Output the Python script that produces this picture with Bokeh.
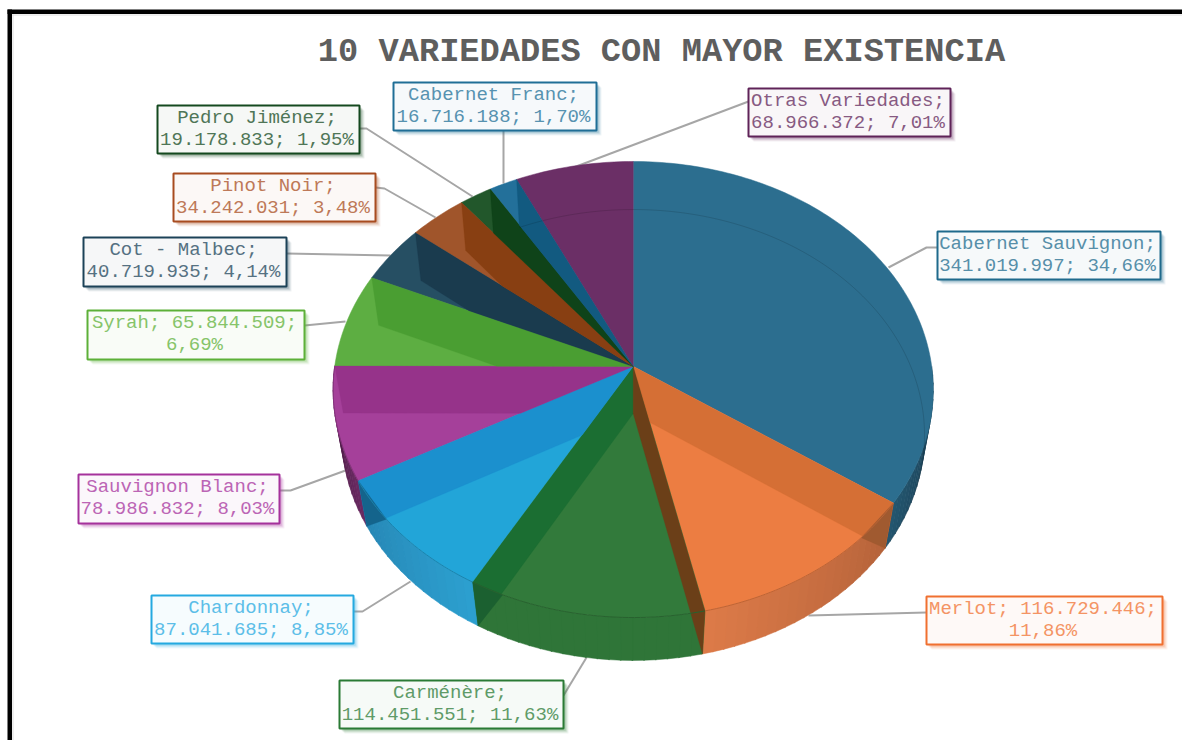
import math
from bokeh.core.properties import value
from bokeh.embed import file_html
from bokeh.models import Range1d
from bokeh.plotting import figure
from bokeh.resources import INLINE

TITLE = "10 VARIEDADES CON MAYOR EXISTENCIA"
names = ["Cabernet Sauvignon", "Merlot", "Carménère", "Chardonnay", "Sauvignon Blanc", "Syrah",
         "Cot - Malbec", "Pinot Noir", "Pedro Jiménez", "Cabernet Franc", "Otras Variedades"]
volumes = [341019997, 116729446, 114451551, 87041685, 78986832, 65844509,
           40719935, 34242031, 19178833, 16716188, 68966372]
percent_labels = ["34,66%", "11,86%", "11,63%", "8,85%", "8,03%", "6,69%",
                  "4,14%", "3,48%", "1,95%", "1,70%", "7,01%"]

# styles
border_colors = ["#1F6A8C", "#F07030", "#2A7A35", "#25A9E0", "#A5329C", "#5DB038",
                 "#1C4258", "#A84C20", "#14491F", "#1F6E96", "#5F2358"]
face_colors = ["#2C6E8F", "#EC7D42", "#327A3B", "#22A5D8", "#A5409A", "#5DAE42",
               "#264F63", "#A0552B", "#22572B", "#23709A", "#6B2F66"]
band_colors = [None, "#D56F35", "#1B6E32", "#1B90CE", "#96338A", "#4A9E32",
               "#1A3B4E", "#883F12", "#0F4319", "#125A80", None]
rim_colors = {1: "#A05A30", 2: "#1B6030", 3: "#14648C"}
brown_wall = "#6B3F18"
wall_colors = [("#17384B", "#24566F"), ("#B5633A", "#DC7A48"), ("#2F7538", "#2F7538"),
               ("#2C9FCF", "#2787B5"), ("#6A2A62", "#45183F")] + [("#000000", "#000000")] * 6

# layout: label box left/top/right/bottom and leader paths, in page pixels
boxes = [(937, 231, 1160, 279), (926, 596, 1162, 644), (339, 680, 563, 728), (151, 595, 353, 643),
         (78, 474, 279, 523), (87, 310, 304, 359), (83, 237, 286, 286), (173, 173, 375, 221),
         (157, 105, 359, 153), (393, 82, 596, 130), (748, 88, 950, 136)]
leaders = [[(937, 247), (926, 247), (888, 267)], [(926, 612), (808, 615)], [(563, 695), (586, 657)],
           [(353, 611), (362, 611), (410, 581)], [(279, 490), (290, 490), (345, 470)],
           [(304, 325), (345, 321)], [(286, 253), (390, 255)], [(375, 187), (384, 188), (435, 217)],
           [(359, 128), (366, 128), (472, 196)], [(503, 130), (503, 183)], [(748, 101), (573, 167)]]
wrap_after_value = {"Merlot", "Syrah"}

CX = 632.7
TOP = dict(cy=366, R=298.5, A=225.7, k=0.1009)
BOT = dict(cy=413, R=290, A=223.4, k=0.0953)


def project(theta_deg, d):
    t = math.radians(theta_deg)
    den = 1 + d["k"] * math.cos(t)
    return CX + d["R"] * math.sin(t) / den, d["cy"] - d["A"] * math.cos(t) / den


def arc(a, b, d, step=1.0):
    n = max(2, int(abs(b - a) / step) + 1)
    return [project(a + (b - a) * i / (n - 1), d) for i in range(n)]


def mix(c1, c2, f):
    a = [int(c1[i:i + 2], 16) for i in (1, 3, 5)]
    b = [int(c2[i:i + 2], 16) for i in (1, 3, 5)]
    return "#%02X%02X%02X" % tuple(round(x + (y - x) * f) for x, y in zip(a, b))


def clip_half(poly, p, q, inside):
    def side(v):
        return (q[0] - p[0]) * (v[1] - p[1]) - (q[1] - p[1]) * (v[0] - p[0])
    sign = 1 if side(inside) > 0 else -1
    out = []
    for i, cur in enumerate(poly):
        nxt = poly[(i + 1) % len(poly)]
        sc, sn = side(cur) * sign, side(nxt) * sign
        if sc >= 0:
            out.append(cur)
        if sc * sn < 0:
            f = sc / (sc - sn)
            out.append((cur[0] + (nxt[0] - cur[0]) * f, cur[1] + (nxt[1] - cur[1]) * f))
    return out


def rim_point(boundary, direction):
    """Where the line from the lower centre to the lower rim point crosses the upper rim."""
    pb = project(boundary, BOT)

    def side(v):
        return (pb[0] - apex2[0]) * (v[1] - apex2[1]) - (pb[1] - apex2[1]) * (v[0] - apex2[0])
    prev = project(boundary, TOP)
    for s in range(1, 60):
        cur = project(boundary + direction * s * 0.5, TOP)
        if side(prev) * side(cur) <= 0:
            return cur
        prev = cur
    return prev


def fmt(n):
    return f"{n:,}".replace(",", ".")


total = sum(volumes)
edges = [0.0]
for v in volumes:
    edges.append(edges[-1] + 360.0 * v / total)

p = figure(width=1182, height=740, x_range=Range1d(0, 1182), y_range=Range1d(740, 0),
           output_backend="svg", toolbar_location=None, min_border=0,
           x_axis_location=None, y_axis_location=None)
p.grid.visible = False
p.outline_line_color = None
p.background_fill_color = "white"

# frame
p.quad(left=[7], right=[1182], top=[9], bottom=[13.5], fill_color="black", line_color=None)
p.quad(left=[7], right=[11.5], top=[9], bottom=[740], fill_color="black", line_color=None)
p.line([11.5, 1182], [14.5, 14.5], line_color="#DDDDDD", line_width=1)
p.line([12.5, 12.5], [14, 740], line_color="#DDDDDD", line_width=1)

p.text(x=[661], y=[51], text=[TITLE], text_font=value("Liberation Mono"), text_font_style="bold",
       text_font_size="33.7px", text_color="#5E5E5E", text_align="center", text_baseline="middle")

# leaders
for path in leaders:
    p.line([q[0] for q in path], [q[1] for q in path], line_color="#A6A6A6", line_width=2)

# outer wall strips
for i in range(len(volumes)):
    a, b = max(edges[i], 90), min(edges[i + 1], 270)
    if a >= b:
        continue
    n = max(1, int((b - a) / 2))
    for j in range(n):
        t0, t1 = a + (b - a) * j / n, a + (b - a) * (j + 1) / n + 0.2
        c = mix(wall_colors[i][0], wall_colors[i][1], j / max(1, n - 1))
        q0, q1, q2, q3 = project(t0, TOP), project(t1, TOP), project(t1, BOT), project(t0, BOT)
        p.patch([q0[0], q1[0], q2[0], q3[0]], [q0[1], q1[1], q2[1], q3[1]],
                fill_color=c, line_color=c, line_width=0.5)

# top faces
apex = (CX, TOP["cy"])
apex2 = (CX, BOT["cy"])
for i in range(len(volumes)):
    pts = [apex] + arc(edges[i], edges[i + 1], TOP)
    p.patch([q[0] for q in pts], [q[1] for q in pts], fill_color=face_colors[i],
            line_color=face_colors[i], line_width=0.5)

# inner walls seen through the faces
for i in range(1, len(volumes) - 1):
    walls = []
    if edges[i] < 180:
        walls.append((edges[i], edges[i + 1], band_colors[i] if i == 1 else brown_wall))
    if edges[i + 1] > 180:
        walls.append((edges[i + 1], edges[i], band_colors[i]))
    for boundary, other, col in sorted(walls, key=lambda w: w[0] < 180):
        pt, pb = project(boundary, TOP), project(boundary, BOT)
        poly = clip_half([apex, pt, pb, apex2], apex, project(other, TOP), pt)
        p.patch([q[0] for q in poly], [q[1] for q in poly], fill_color=col, line_color=col, line_width=0.3)
        if i in rim_colors and col != brown_wall:
            direction = 1 if boundary < 180 else -1
            tri = [pt, pb, rim_point(boundary, direction)]
            p.patch([q[0] for q in tri], [q[1] for q in tri], fill_color=rim_colors[i],
                    line_color=rim_colors[i], line_width=0.3)

# arc lines
for i in range(1, 5):
    pts = arc(max(edges[i], 90), min(edges[i + 1], 270), TOP)
    p.line([q[0] for q in pts], [q[1] for q in pts], line_color=mix(face_colors[i], "#000000", 0.2),
           line_width=1)
pts = arc(edges[-2], 360, BOT) + arc(0, edges[1], BOT)
p.line([q[0] for q in pts], [q[1] for q in pts], line_color="#000000", line_alpha=0.13, line_width=1)

# labels
for name, v, pct, box, col in zip(names, volumes, percent_labels, boxes, border_colors):
    x0, y0, x1, y1 = box
    for off, al in ((5, 0.07), (4, 0.10), (3, 0.14), (2, 0.18)):
        p.quad(left=[x0 + off], right=[x1 + off], top=[y0 + off], bottom=[y1 + off],
               fill_color=col, fill_alpha=al, line_color=None)
    p.quad(left=[x0], right=[x1], top=[y0], bottom=[y1], fill_color=mix(col, "#FFFFFF", 0.96),
           line_color=col, line_width=2)
    if name in wrap_after_value:
        lines = [f"{name}; {fmt(v)};", pct]
    else:
        lines = [f"{name};", f"{fmt(v)}; {pct}"]
    for k, line in enumerate(lines):
        p.text(x=[(x0 + x1) / 2 - 1.5], y=[y0 + 12.8 + 21.2 * k], text=[line],
               text_font=value("Liberation Mono"), text_font_size="19px",
               text_color=mix(col, "#FFFFFF", 0.25), text_align="center", text_baseline="middle")

open("out.html", "w").write(file_html(p, INLINE))
